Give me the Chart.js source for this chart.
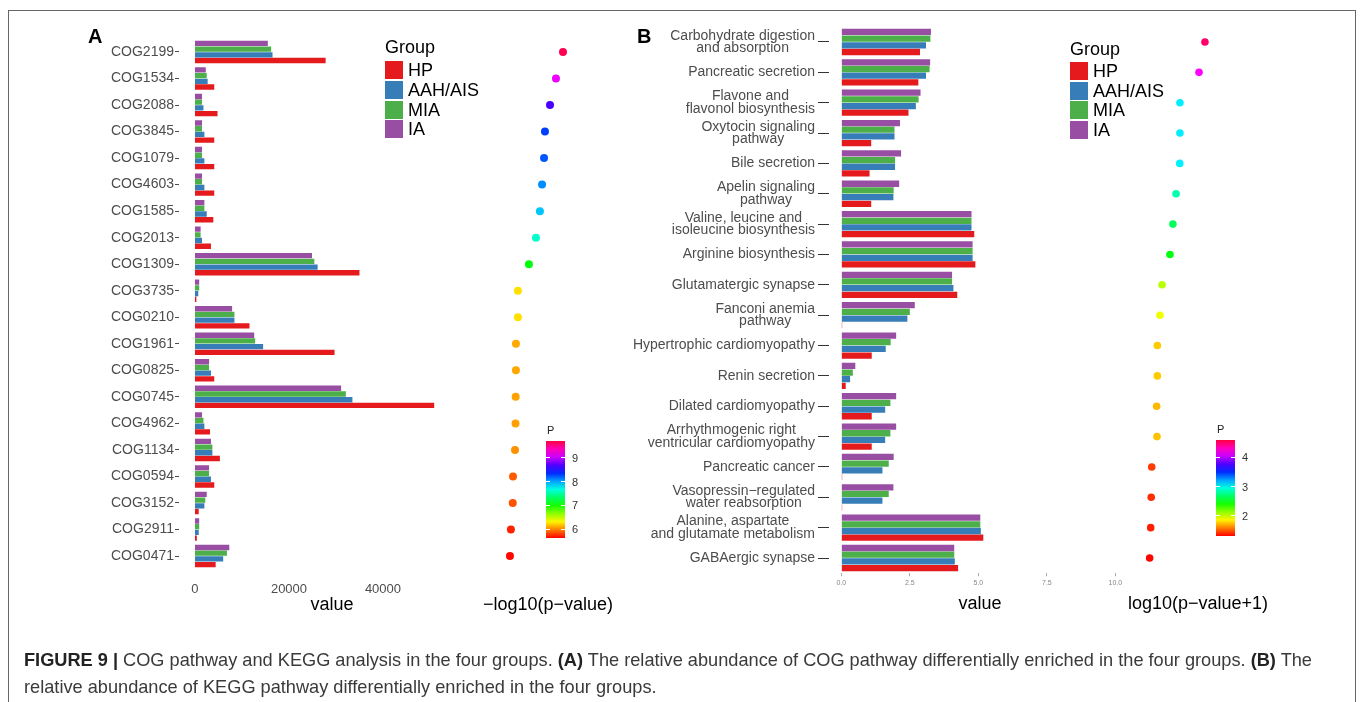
<!DOCTYPE html>
<html>
<head>
<meta charset="utf-8">
<script src="https://cdn.jsdelivr.net/npm/chart.js@4.4.1/dist/chart.umd.min.js"></script>
<style>
  body { margin: 0; background: #fff; font-family: "Liberation Sans", Arial, sans-serif; }
  #page { position: relative; width: 1362px; height: 702px; overflow: hidden; background: #fff; }
  #page canvas { position: absolute; left: 0; top: 0; }
  .marco { position: absolute; left: 8px; top: 10px; width: 1346px; height: 720px; border: 1px solid #666; }
  .txt { position: absolute; white-space: nowrap; line-height: 1; }
  .centro { transform: translate(-50%, -50%); }
  .medio { transform: translateY(-50%); }
  .clave { position: absolute; width: 18px; height: 18px; }
  .barra { position: absolute; width: 19px; }
  .marca { position: absolute; width: 4px; height: 1px; background: #fff; }
  .cbtxt { position: absolute; font-size: 11px; color: #333; line-height: 1; transform: translateY(-50%); }
  .caption { position: absolute; left: 24px; font-size: 18.2px; color: #3a3a3a; white-space: nowrap; line-height: 1; transform: translateY(-50%); }
  .caption b { color: #222; }
</style>
</head>
<body>
<div id="page">
  <div class="marco"></div>
</div>
<script>
// grupos y colores
const grupos = ['HP', 'AAH/AIS', 'MIA', 'IA'];
const coloresGrupo = ['#e41a1c', '#377eb8', '#4daf4a', '#984ea3'];

// Panel A: COG
const cogLabels = ['COG2199', 'COG1534', 'COG2088', 'COG3845', 'COG1079', 'COG4603', 'COG1585', 'COG2013', 'COG1309', 'COG3735',
                   'COG0210', 'COG1961', 'COG0825', 'COG0745', 'COG4962', 'COG1134', 'COG0594', 'COG3152', 'COG2911', 'COG0471'];
const cogHP  = [27800, 4100, 4800, 4100, 4100, 4100, 3900, 3400, 35000, 300, 11600, 29700, 4100, 50900, 3200, 5300, 4100, 800, 400, 4400];
const cogAAH = [16500, 2700, 1800, 2000, 2000, 2000, 2500, 1500, 26100, 700, 8400, 14500, 3400, 33500, 2000, 3700, 3400, 2000, 800, 6000];
const cogMIA = [16200, 2500, 1500, 1500, 1500, 1500, 2000, 1200, 25400, 900, 8400, 12800, 3000, 32100, 1800, 3700, 3000, 2200, 900, 6800];
const cogIA  = [15500, 2300, 1500, 1500, 1500, 1500, 2000, 1200, 24900, 900, 7900, 12600, 3000, 31100, 1500, 3400, 3000, 2500, 900, 7300];
const cogP   = [9.65, 9.12, 8.67, 8.29, 8.22, 8.07, 7.91, 7.61, 7.08, 6.25, 6.25, 6.10, 6.10, 6.08, 6.07, 6.03, 5.88, 5.86, 5.72, 5.65];
const ticksA = [0, 20000, 40000];
const rangoPA = [5.63, 9.7];
const ticksPA = [6, 7, 8, 9];

// Panel B: KEGG
const keggLabels = [['Carbohydrate digestion', 'and absorption'], 'Pancreatic secretion', ['Flavone and', 'flavonol biosynthesis'],
  ['Oxytocin signaling', 'pathway'], 'Bile secretion', ['Apelin signaling', 'pathway'], ['Valine, leucine and', 'isoleucine biosynthesis'],
  'Arginine biosynthesis', 'Glutamatergic synapse', ['Fanconi anemia', 'pathway'], 'Hypertrophic cardiomyopathy', 'Renin secretion',
  'Dilated cardiomyopathy', ['Arrhythmogenic right', 'ventricular cardiomyopathy'], 'Pancreatic cancer',
  ['Vasopressin\u2212regulated', 'water reabsorption'], ['Alanine, aspartate', 'and glutamate metabolism'], 'GABAergic synapse'];
const keggHP  = [2.87, 2.81, 2.45, 1.09, 1.03, 1.09, 4.85, 4.89, 4.23, 0.03, 1.11, 0.16, 1.11, 1.11, 0.03, 0.03, 5.18, 4.26];
const keggAAH = [3.09, 3.09, 2.72, 1.94, 1.96, 1.90, 4.75, 4.79, 4.09, 2.41, 1.62, 0.32, 1.60, 1.60, 1.50, 1.50, 5.09, 4.14];
const keggMIA = [3.25, 3.22, 2.82, 1.94, 1.96, 1.91, 4.75, 4.79, 4.04, 2.50, 1.80, 0.42, 1.79, 1.79, 1.73, 1.73, 5.07, 4.12];
const keggIA  = [3.27, 3.24, 2.89, 2.14, 2.18, 2.11, 4.75, 4.79, 4.04, 2.68, 2.00, 0.51, 2.00, 2.00, 1.91, 1.90, 5.07, 4.12];
const keggP   = [4.49, 4.15, 3.06, 3.06, 3.05, 2.84, 2.66, 2.49, 2.04, 1.92, 1.77, 1.77, 1.73, 1.75, 1.45, 1.42, 1.39, 1.33];
const ticksB = [0, 2.5, 5, 7.5, 10];
const rangoPB = [1.32, 4.58];
const ticksPB = [2, 3, 4];

Chart.defaults.font.family = '"Liberation Sans", Arial, sans-serif';
Chart.defaults.color = '#4d4d4d';

const page = document.getElementById('page');

function crearLienzo() {
  const c = document.createElement('canvas');
  c.width = 1362;
  c.height = 702;
  page.appendChild(c);
  return c.getContext('2d');
}

// arcoiris tipo rainbow() de R: rojo (bajo) -> magenta (alto)
function colorP(v, rango) {
  let t = (v - rango[0]) / (rango[1] - rango[0]);
  t = Math.min(1, Math.max(0, t));
  return 'hsl(' + (t * 345).toFixed(1) + ', 100%, 50%)';
}

function texto(html, x, y, clase, estilo) {
  const d = document.createElement('div');
  d.className = 'txt ' + (clase || '');
  d.innerHTML = html;
  d.style.left = x + 'px';
  d.style.top = y + 'px';
  if (estilo) d.style.cssText += estilo;
  page.appendChild(d);
  return d;
}

function datasetsBarras(ia, mia, aah, hp) {
  // IA arriba, HP abajo
  return [
    { label: 'IA', data: ia, backgroundColor: coloresGrupo[3] },
    { label: 'MIA', data: mia, backgroundColor: coloresGrupo[2] },
    { label: 'AAH/AIS', data: aah, backgroundColor: coloresGrupo[1] },
    { label: 'HP', data: hp, backgroundColor: coloresGrupo[0] }
  ];
}

// etiquetas de varias lineas centradas entre si, bloque alineado a la derecha
const etiquetasCentradas = {
  id: 'etiquetasCentradas',
  afterDraw(chart) {
    const ctx = chart.ctx;
    const y = chart.scales.y;
    ctx.save();
    ctx.font = '14px "Liberation Sans", Arial, sans-serif';
    ctx.fillStyle = '#4d4d4d';
    ctx.textAlign = 'center';
    ctx.textBaseline = 'middle';
    const derecha = y.right - 14;
    chart.data.labels.forEach((etq, i) => {
      const lineas = Array.isArray(etq) ? etq : [etq];
      const ancho = Math.max(...lineas.map(l => ctx.measureText(l).width));
      const cx = derecha - ancho / 2;
      const cy = y.getPixelForValue(i);
      lineas.forEach((l, j) => {
        ctx.fillText(l, cx, cy + (j - (lineas.length - 1) / 2) * 12.5);
      });
    });
    ctx.restore();
  }
};

// ---- A: barras ----
new Chart(crearLienzo(), {
  type: 'bar',
  data: { labels: cogLabels, datasets: datasetsBarras(cogIA, cogMIA, cogAAH, cogHP) },
  options: {
    indexAxis: 'y',
    responsive: false,
    animation: false,
    layout: { padding: { left: 59, right: 917, top: 38.7, bottom: 102.7 } },
    datasets: { bar: { categoryPercentage: 0.86, barPercentage: 0.94 } },
    plugins: { legend: { display: false }, tooltip: { enabled: false } },
    scales: {
      x: {
        min: -3400, max: 53200,
        grid: { display: false },
        border: { display: false },
        afterBuildTicks: s => { s.ticks = ticksA.map(v => ({ value: v })); },
        afterFit: s => { s.height = 30; },
        ticks: { font: { size: 13 }, color: '#4d4d4d', padding: 4, callback: v => String(v) }
      },
      y: {
        grid: { drawOnChartArea: false, drawTicks: true, tickLength: 4, tickColor: '#4d4d4d', offset: false },
        border: { display: false },
        afterFit: s => { s.width = 120; },
        ticks: { font: { size: 14 }, color: '#4d4d4d', padding: 1 }
      }
    }
  }
});

// ---- A: puntos ----
new Chart(crearLienzo(), {
  type: 'scatter',
  data: {
    datasets: [{
      data: cogP.map((v, i) => ({ x: v, y: i })),
      pointRadius: 4,
      pointBorderWidth: 0,
      pointBackgroundColor: cogP.map(v => colorP(v, rangoPA))
    }]
  },
  options: {
    responsive: false,
    animation: false,
    layout: { padding: { left: 480, right: 742, top: 38.7, bottom: 132.7 } },
    plugins: { legend: { display: false }, tooltip: { enabled: false } },
    scales: {
      x: { type: 'linear', min: 3.39, max: 13.95, display: false },
      y: { type: 'category', labels: cogLabels, offset: true, display: false }
    }
  }
});

// ---- B: barras ----
new Chart(crearLienzo(), {
  type: 'bar',
  data: { labels: keggLabels, datasets: datasetsBarras(keggIA, keggMIA, keggAAH, keggHP) },
  options: {
    indexAxis: 'y',
    responsive: false,
    animation: false,
    layout: { padding: { left: 629, right: 234, top: 26.8, bottom: 98.8 } },
    datasets: { bar: { categoryPercentage: 0.88, barPercentage: 0.94 } },
    plugins: { legend: { display: false }, tooltip: { enabled: false } },
    scales: {
      x: {
        min: -0.45, max: 10.46,
        grid: { drawOnChartArea: false, drawTicks: true, tickLength: 3, tickColor: '#aaa' },
        border: { display: false },
        afterBuildTicks: s => { s.ticks = ticksB.map(v => ({ value: v })); },
        afterFit: s => { s.height = 30; },
        ticks: { font: { size: 7 }, color: '#888', padding: 3, callback: v => v.toFixed(1) }
      },
      y: {
        grid: { drawOnChartArea: false, drawTicks: true, tickLength: 11, tickColor: '#333', offset: false },
        border: { display: false },
        afterFit: s => { s.width = 200; },
        ticks: { display: false }
      }
    }
  },
  plugins: [etiquetasCentradas]
});

// ---- B: puntos ----
new Chart(crearLienzo(), {
  type: 'scatter',
  data: {
    datasets: [{
      data: keggP.map((v, i) => ({ x: v, y: i })),
      pointRadius: 3.8,
      pointBorderWidth: 0,
      pointBackgroundColor: keggP.map(v => colorP(v, rangoPB))
    }]
  },
  options: {
    responsive: false,
    animation: false,
    layout: { padding: { left: 1135, right: 102, top: 26.8, bottom: 128.8 } },
    plugins: { legend: { display: false }, tooltip: { enabled: false } },
    scales: {
      x: { type: 'linear', min: 0.493, max: 7.636, display: false },
      y: { type: 'category', labels: keggLabels, offset: true, display: false }
    }
  }
});

// ---- leyendas de grupo ----
function leyendaGrupo(x, yTitulo, topes) {
  texto('Group', x, yTitulo, 'medio', 'font-size:18px;color:#000;');
  grupos.forEach((g, i) => {
    const k = document.createElement('div');
    k.className = 'clave';
    k.style.left = x + 'px';
    k.style.top = topes[i] + 'px';
    k.style.background = coloresGrupo[i];
    page.appendChild(k);
    texto(g, x + 23, topes[i] + 9, 'medio', 'font-size:18px;color:#000;');
  });
}
leyendaGrupo(385, 47, [61, 81, 100.5, 120]);
leyendaGrupo(1070, 49, [62, 82, 101, 120.5]);

// ---- barras de color P ----
function barraColor(x, top, bottom, rango, marcas) {
  const paradas = [];
  for (let i = 0; i <= 12; i++) {
    paradas.push('hsl(' + (i / 12 * 345).toFixed(1) + ',100%,50%) ' + (i / 12 * 100).toFixed(1) + '%');
  }
  const b = document.createElement('div');
  b.className = 'barra';
  b.style.left = x + 'px';
  b.style.top = top + 'px';
  b.style.height = (bottom - top) + 'px';
  b.style.background = 'linear-gradient(to top, ' + paradas.join(', ') + ')';
  page.appendChild(b);
  texto('P', x + 1, top - 11, 'medio', 'font-size:11px;color:#222;');
  marcas.forEach(m => {
    const yy = bottom - (m - rango[0]) / (rango[1] - rango[0]) * (bottom - top);
    [x, x + 15].forEach(xx => {
      const t = document.createElement('div');
      t.className = 'marca';
      t.style.left = xx + 'px';
      t.style.top = (yy - 0.5) + 'px';
      page.appendChild(t);
    });
    const l = document.createElement('div');
    l.className = 'cbtxt';
    l.textContent = m;
    l.style.left = (x + 26) + 'px';
    l.style.top = yy + 'px';
    page.appendChild(l);
  });
}
barraColor(546, 441, 538, rangoPA, ticksPA);
barraColor(1216, 440, 536, rangoPB, ticksPB);

// ---- titulos ----
texto('A', 88, 36, 'medio', 'font-size:20px;font-weight:bold;color:#000;');
texto('B', 637, 36, 'medio', 'font-size:20px;font-weight:bold;color:#000;');
texto('value', 332, 604, 'centro', 'font-size:18px;color:#000;');
texto('\u2212log10(p\u2212value)', 548, 604, 'centro', 'font-size:18px;color:#000;');
texto('value', 980, 603, 'centro', 'font-size:18px;color:#000;');
texto('log10(p\u2212value+1)', 1198, 603, 'centro', 'font-size:18px;color:#000;');

// ---- pie de figura ----
const l1 = document.createElement('div');
l1.className = 'caption';
l1.style.top = '660px';
l1.innerHTML = '<b>FIGURE 9 |</b> COG pathway and KEGG analysis in the four groups. <b>(A)</b> The relative abundance of COG pathway differentially enriched in the four groups. <b>(B)</b> The';
page.appendChild(l1);
const l2 = document.createElement('div');
l2.className = 'caption';
l2.style.top = '687px';
l2.textContent = 'relative abundance of KEGG pathway differentially enriched in the four groups.';
page.appendChild(l2);
</script>
</body>
</html>
